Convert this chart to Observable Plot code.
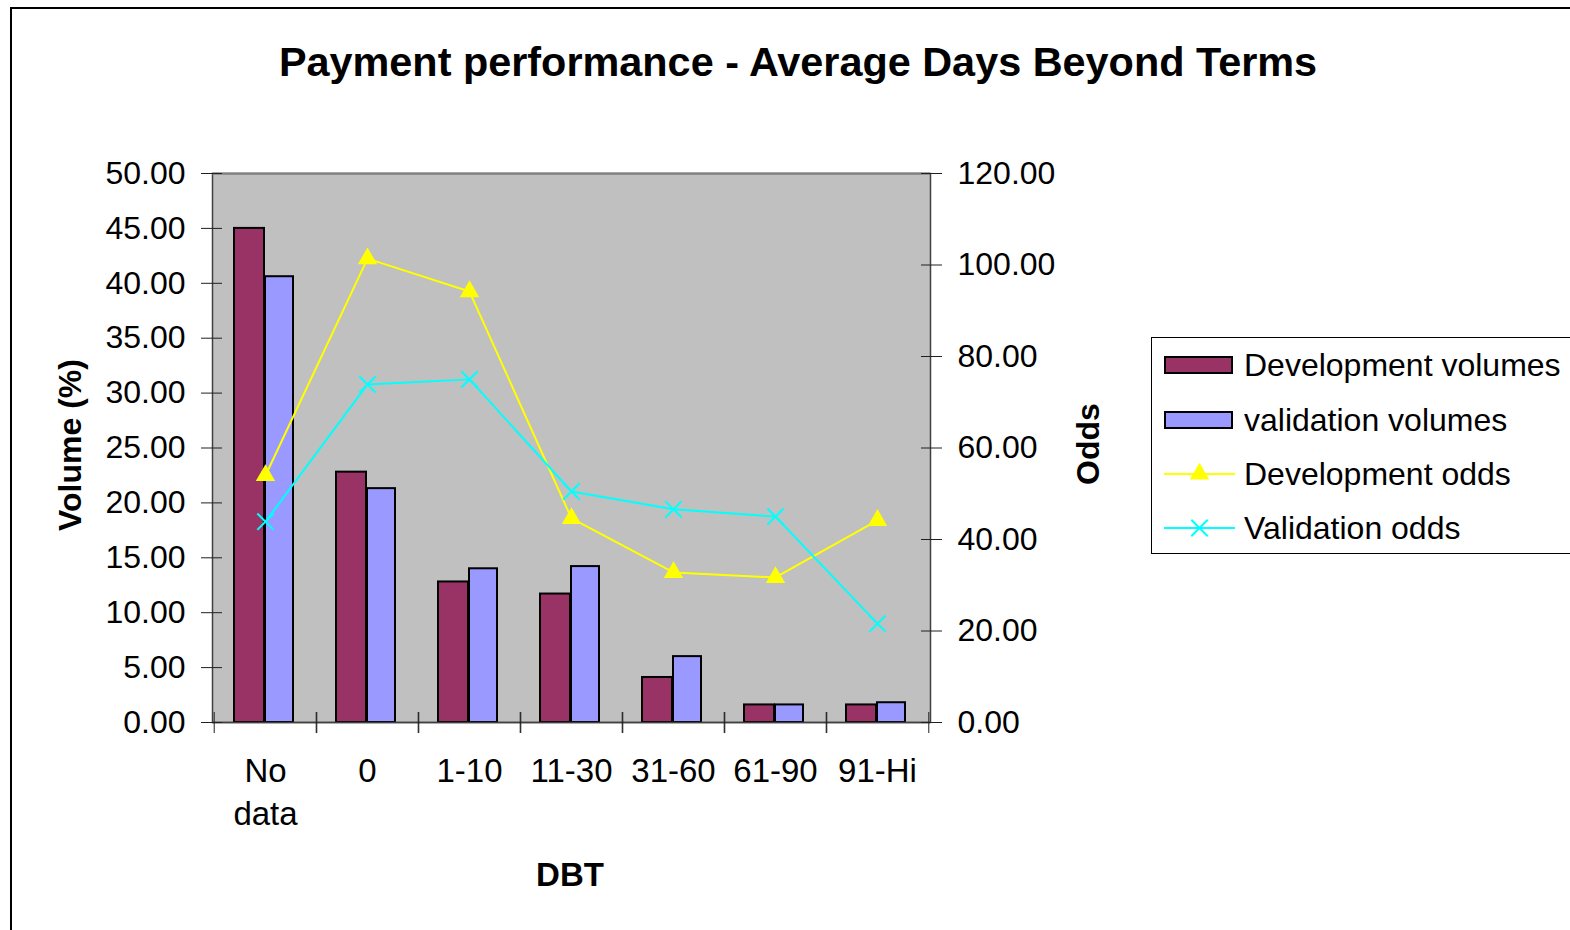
<!DOCTYPE html>
<html>
<head>
<meta charset="utf-8">
<script src="https://cdn.jsdelivr.net/npm/d3@7"></script>
<script src="https://cdn.jsdelivr.net/npm/@observablehq/plot@0.6"></script>
<style>
  html, body { margin: 0; padding: 0; background: #fff; overflow: hidden; }
  #page { position: relative; width: 1570px; height: 930px; font-family: "Liberation Sans", Arial, sans-serif; color: #000; }
  #page svg { position: absolute; left: 0; top: 0; }
  .abs { position: absolute; white-space: nowrap; line-height: 1; }
  #border { position: absolute; left: 10px; top: 7px; width: 1600px; height: 1000px; border: 2px solid #000; box-sizing: border-box; }
  #title { left: 798px; top: 63px; transform: translate(-50%, -50%); font-size: 41.4px; font-weight: bold; }
  #ylab { left: 70px; top: 445px; transform: translate(-50%, -50%) rotate(-90deg); font-size: 32px; font-weight: bold; }
  #y2lab { left: 1088px; top: 444px; transform: translate(-50%, -50%) rotate(-90deg); font-size: 32px; font-weight: bold; }
  #xlab { left: 570px; top: 874px; transform: translate(-50%, -50%); font-size: 33px; font-weight: bold; }
  #legend { position: absolute; left: 1151px; top: 337px; width: 500px; height: 217px; border: 1.5px solid #000; box-sizing: border-box; background: #fff; }
  .leg-item { position: absolute; left: 12px; height: 40px; }
  .leg-item svg { position: absolute; left: 0; top: 0; }
  .leg-text { position: absolute; left: 80px; top: 50%; transform: translateY(-50%); font-size: 32px; white-space: nowrap; line-height: 1; }
</style>
</head>
<body>
<div id="page">
  <div id="border"></div>
  <div id="chart"></div>
  <div id="title" class="abs"></div>
  <div id="ylab" class="abs"></div>
  <div id="y2lab" class="abs"></div>
  <div id="xlab" class="abs"></div>
  <div id="legend"></div>
</div>
<script>
// ---- data ----
const titleText = "Payment performance - Average Days Beyond Terms";
const xTitle = "DBT";
const yTitle = "Volume (%)";
const y2Title = "Odds";
const categories = ["No data", "0", "1-10", "11-30", "31-60", "61-90", "91-Hi"];
const devVolumes = [45.0, 22.8, 12.8, 11.7, 4.1, 1.6, 1.6];
const valVolumes = [40.6, 21.3, 14.0, 14.2, 6.0, 1.6, 1.8];
const devOdds = [54.0, 101.4, 94.2, 44.6, 32.8, 31.7, 44.2];
const valOdds = [43.9, 73.9, 75.0, 50.5, 46.6, 45.0, 21.6];
const volumeTicks = [0, 5, 10, 15, 20, 25, 30, 35, 40, 45, 50];
const oddsTicks = [0, 20, 40, 60, 80, 100, 120];
const seriesNames = ["Development volumes", "validation volumes", "Development odds", "Validation odds"];
const colors = { devBar: "#993366", valBar: "#9999ff", devLine: "#ffff00", valLine: "#00ffff" };

// ---- layout ----
const W = 1570, H = 930;
const mL = 212, mR = 640, mT = 173, mB = 208;
const bw = (W - mL - mR) / categories.length;
const volMax = 50, oddsMax = 120;
const k = volMax / oddsMax; // maps odds onto the volume scale (secondary axis)

const rows = categories.map((c, i) => ({
  cat: c, dev: devVolumes[i], val: valVolumes[i], devOdds: devOdds[i], valOdds: valOdds[i]
}));

const chart = Plot.plot({
  width: W, height: H,
  marginLeft: mL, marginRight: mR, marginTop: mT, marginBottom: mB,
  style: { fontFamily: '"Liberation Sans", Arial, sans-serif', fontSize: "32px", color: "#000", background: "transparent", overflow: "visible" },
  x: { type: "band", domain: categories, padding: 0 },
  y: { domain: [0, volMax] },
  marks: [
    Plot.frame({ fill: "#c0c0c0", stroke: "#404040", strokeWidth: 1.5 }),
    Plot.ruleY([volMax], { stroke: "#808080", strokeWidth: 2 }),
    Plot.barY(rows, { x: "cat", y: "dev", fill: colors.devBar, stroke: "#000", strokeWidth: 2, insetLeft: 20, insetRight: 52 }),
    Plot.barY(rows, { x: "cat", y: "val", fill: colors.valBar, stroke: "#000", strokeWidth: 2, insetLeft: 51, insetRight: 23 }),
    Plot.ruleY([0], { stroke: "#404040", strokeWidth: 1.5 }),
    Plot.line(rows, { x: "cat", y: d => d.devOdds * k, stroke: colors.devLine, strokeWidth: 2 }),
    Plot.dot(rows, { x: "cat", y: d => d.devOdds * k, symbol: "triangle", fill: colors.devLine, stroke: "none", r: 7.2 }),
    Plot.line(rows, { x: "cat", y: d => d.valOdds * k, stroke: colors.valLine, strokeWidth: 2 }),
    Plot.dot(rows, { x: "cat", y: d => d.valOdds * k, symbol: "times", stroke: colors.valLine, strokeWidth: 2, r: 7.5 }),
    // left axis
    Plot.axisY({ ticks: volumeTicks, tickSize: 21, dx: 10, fill: "none", tickFormat: () => "", label: null, stroke: "#202020" }),
    Plot.axisY({ ticks: volumeTicks, tickSize: 0, tickPadding: 27, tickFormat: d => d.toFixed(2), label: null }),
    // right axis (odds)
    Plot.axisY({ anchor: "right", ticks: oddsTicks.map(v => v * k), tickSize: 21, dx: -10, fill: "none", tickFormat: () => "", label: null, stroke: "#202020" }),
    Plot.axisY({ anchor: "right", ticks: oddsTicks.map(v => v * k), tickSize: 0, tickPadding: 27, textAnchor: "start", tickFormat: d => (d / k).toFixed(2), label: null }),
    // x axis: ticks at band boundaries
    Plot.axisX({ tickSize: 21, dy: -10, dx: -bw / 2, fill: "none", tickFormat: () => "", label: null, stroke: "#202020" }),
    Plot.axisX({ tickSize: 21, dy: -10, dx: bw / 2, fill: "none", tickFormat: () => "", label: null, stroke: "#202020" }),
    Plot.axisX({ tickSize: 0, tickPadding: 29, lineHeight: 1.3, fontSize: 33, tickFormat: d => d === "No data" ? "No\ndata" : d, label: null })
  ]
});
document.getElementById("chart").appendChild(chart);

document.getElementById("title").textContent = titleText;
document.getElementById("xlab").textContent = xTitle;
document.getElementById("ylab").textContent = yTitle;
document.getElementById("y2lab").textContent = y2Title;

// legend
const legend = document.getElementById("legend");
const legendTops = [7, 62, 116, 170];
const ns = "http://www.w3.org/2000/svg";
seriesNames.forEach((name, i) => {
  const item = document.createElement("div");
  item.className = "leg-item";
  item.style.top = legendTops[i] + "px";
  item.style.width = "480px";
  const svg = document.createElementNS(ns, "svg");
  svg.setAttribute("width", "80"); svg.setAttribute("height", "40");
  if (i < 2) {
    const r = document.createElementNS(ns, "rect");
    r.setAttribute("x", "1"); r.setAttribute("y", "12"); r.setAttribute("width", "67"); r.setAttribute("height", "16");
    r.setAttribute("fill", i === 0 ? colors.devBar : colors.valBar);
    r.setAttribute("stroke", "#000"); r.setAttribute("stroke-width", "2");
    svg.appendChild(r);
  } else {
    const c = i === 2 ? colors.devLine : colors.valLine;
    const l = document.createElementNS(ns, "line");
    l.setAttribute("x1", "0"); l.setAttribute("x2", "71"); l.setAttribute("y1", "20"); l.setAttribute("y2", "20");
    l.setAttribute("stroke", c); l.setAttribute("stroke-width", "2");
    svg.appendChild(l);
    const p = document.createElementNS(ns, "path");
    if (i === 2) {
      p.setAttribute("d", d3.symbol(d3.symbolTriangle, Math.PI * 7.2 * 7.2)());
      p.setAttribute("fill", c);
    } else {
      p.setAttribute("d", d3.symbol(d3.symbolTimes, Math.PI * 7.5 * 7.5)());
      p.setAttribute("fill", "none"); p.setAttribute("stroke", c); p.setAttribute("stroke-width", "2");
    }
    p.setAttribute("transform", "translate(35.5,20)");
    svg.appendChild(p);
  }
  item.appendChild(svg);
  const t = document.createElement("div");
  t.className = "leg-text";
  t.textContent = name;
  item.appendChild(t);
  legend.appendChild(item);
});
</script>
</body>
</html>
